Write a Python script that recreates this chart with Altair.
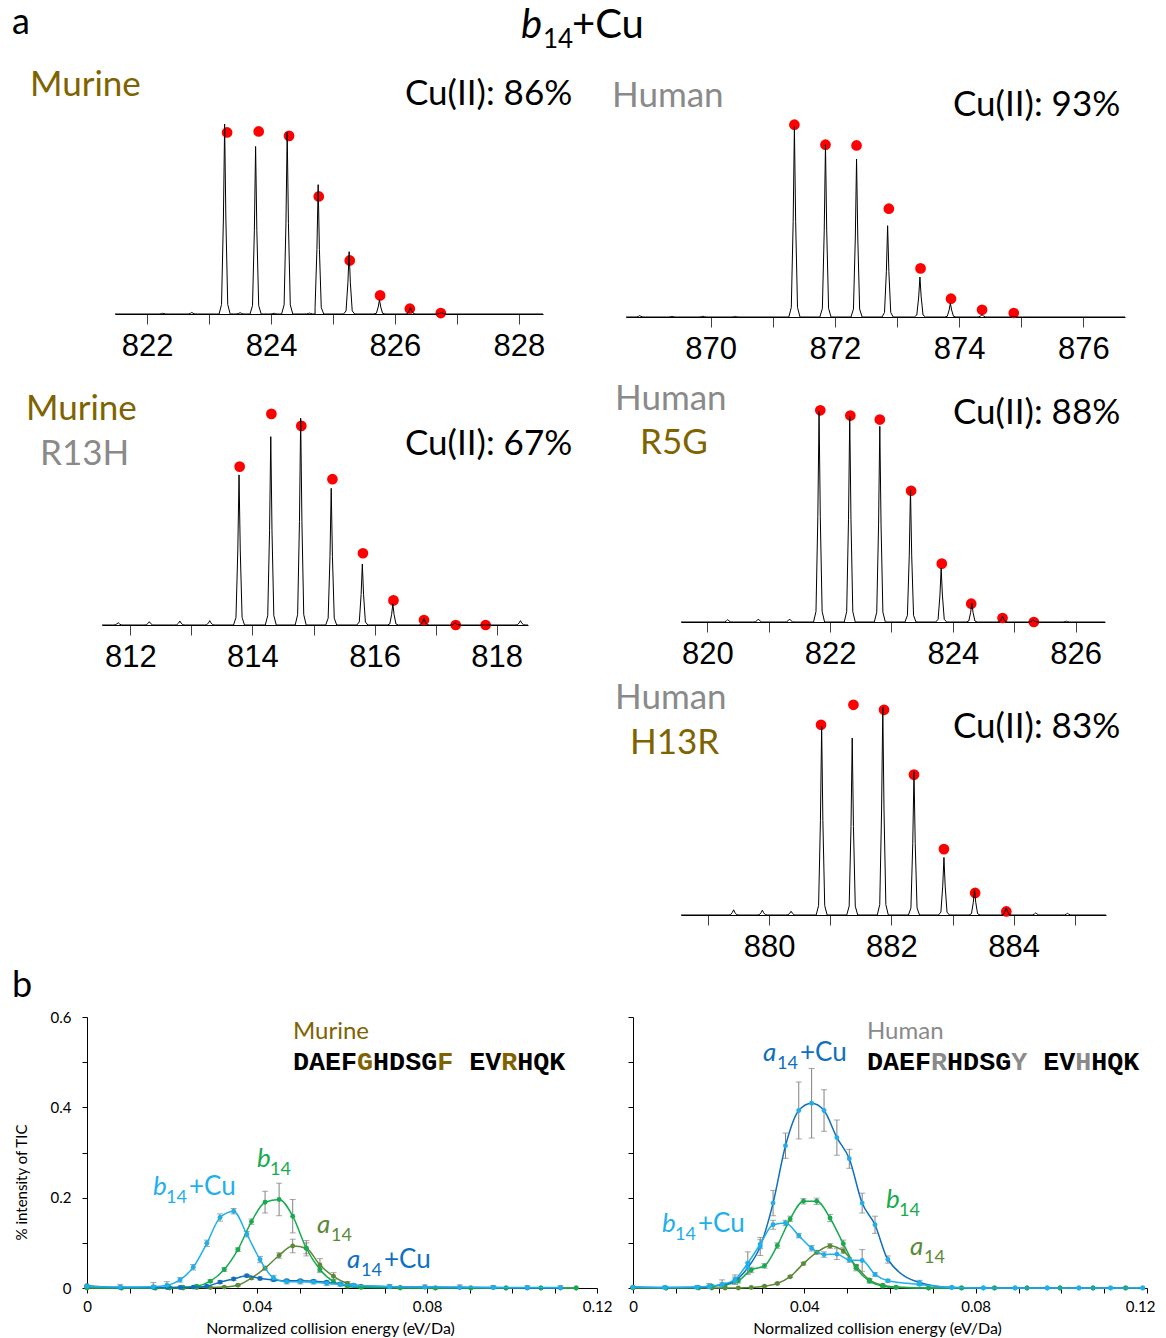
import altair as alt
import pandas as pd

# ---------------- colours ----------------
LIGHT_BLUE = "#1FAFEB"
DARK_BLUE = "#0E6FC1"
GREEN = "#16AC4E"
OLIVE_GREEN = "#5A8A38"
OLIVE_TXT = "#7F6300"
GRAY_TXT = "#8A8A8A"
ERR_GRAY = "#808080"

# ---------------- panel a : spectra (relative intensity, %) ----------------
S1_PEAK_MZ = [822.25, 822.72, 823.25, 823.50, 823.75, 824.05, 824.26, 824.62, 824.76, 825.26, 825.75, 826.25, 826.75]
S1_PEAK_I = [0.4, 0.8, 100, 0.7, 88.2, 0.4, 95.6, 0.5, 68.1, 32.8, 7.5, 3.5, 0.8]
S1_DOT_MZ = [823.29, 823.80, 824.29, 824.77, 825.27, 825.76, 826.24, 826.74]
S1_DOT_I = [95.6, 96.1, 93.8, 61.9, 28.2, 9.8, 2.8, 0.5]

S2_PEAK_MZ = [868.86, 869.38, 869.88, 870.40, 871.35, 871.85, 872.35, 872.85, 873.37, 873.86, 874.37, 874.88]
S2_PEAK_I = [0.7, 0.3, 0.4, 0.3, 100, 90.4, 82.9, 47.9, 21.0, 7.3, 1.2, 0.3]
S2_DOT_MZ = [871.35, 871.85, 872.35, 872.87, 873.38, 873.87, 874.37, 874.88]
S2_DOT_I = [100.9, 90.4, 90.0, 56.8, 25.5, 9.6, 3.8, 2.1]

S3_PEAK_MZ = [811.80, 812.31, 812.81, 813.30, 813.78, 814.30, 814.79, 815.29, 815.80, 816.30, 816.81, 817.32, 818.39]
S3_PEAK_I = [1.1, 1.6, 1.9, 2.1, 72.6, 91.1, 100, 66.1, 29.5, 10.2, 3.2, 1.1, 2.1]
S3_DOT_MZ = [813.79, 814.31, 814.80, 815.31, 815.81, 816.31, 816.81, 817.33, 817.82]
S3_DOT_I = [76.6, 102.1, 96.3, 70.5, 34.7, 11.9, 2.4, 0.0, 0.0]

S4_PEAK_MZ = [820.33, 820.83, 821.34, 821.82, 822.32, 822.81, 823.31, 823.81, 824.31, 824.81, 825.31, 825.85]
S4_PEAK_I = [1.1, 1.4, 1.4, 100, 97.6, 92.9, 62.8, 25.6, 9.0, 2.7, 1.1, 0.4]
S4_DOT_MZ = [821.84, 822.33, 822.81, 823.32, 823.82, 824.30, 824.81, 825.32]
S4_DOT_I = [100.5, 98.0, 96.1, 62.3, 27.7, 8.7, 1.9, 0.0]

S5_PEAK_MZ = [879.42, 879.89, 880.36, 880.86, 881.36, 881.86, 882.37, 882.86, 883.36, 883.88, 884.36, 884.88]
S5_PEAK_I = [2.5, 2.3, 1.8, 90.7, 85.1, 100, 69.0, 27.7, 12.2, 3.4, 1.0, 0.8]
S5_DOT_MZ = [880.85, 881.38, 881.88, 882.37, 882.86, 883.37, 883.88]
S5_DOT_I = [91.5, 101.1, 98.7, 67.5, 31.7, 10.6, 1.7]

# peak profile (style constants: offsets in m/z and relative height)
PEAK_DX = [-0.09, -0.05, -0.02, 0.0, 0.02, 0.05, 0.09]
PEAK_F = [0.0, 0.05, 0.5, 1.0, 0.5, 0.05, 0.0]

# ---------------- panel b : energy-resolved curves ----------------
E_MU_CU = [0, 0.0078, 0.0156, 0.0188, 0.0219, 0.025, 0.0282, 0.0313, 0.0345, 0.0376, 0.0407, 0.0439,
           0.047, 0.0502, 0.0533, 0.0564, 0.0596, 0.0627, 0.0712, 0.0795, 0.0877, 0.0956, 0.1036, 0.1114]
MU_B14CU = [0.004, 0.002, 0.003, 0.006, 0.018, 0.046, 0.099, 0.156, 0.170, 0.119, 0.063, 0.022,
            0.014, 0.014, 0.013, 0.010, 0.008, 0.006, 0.003, 0.002, 0.002, 0.001, 0.001, 0.001]
MU_B14CU_ERR = [0.002, 0.006, 0.009, 0.008, 0.005, 0.006, 0.007, 0.008, 0.006, 0.006, 0.007, 0.006,
                0.005, 0.005, 0.004, 0.004, 0.004, 0.003, 0.005, 0.005, 0.005, 0.004, 0.004, 0.004]
MU_A14CU = [0.005, 0.001, 0.001, 0.001, 0.001, 0.002, 0.004, 0.013, 0.020, 0.027, 0.021, 0.018,
            0.016, 0.016, 0.015, 0.013, 0.009, 0.006, 0.003, 0.002, 0.001, 0.001, 0.0, 0.0]
MU_A14CU_ERR = [0.001, 0.001, 0.001, 0.001, 0.001, 0.001, 0.002, 0.003, 0.003, 0.003, 0.003, 0.003,
                0.003, 0.003, 0.003, 0.003, 0.002, 0.002, 0.001, 0.001, 0.001, 0.001, 0.001, 0.001]
E_MU_B = [0, 0.0081, 0.0161, 0.0194, 0.0226, 0.0258, 0.029, 0.0323, 0.0355, 0.0387, 0.0419, 0.0452,
          0.0484, 0.0516, 0.0548, 0.058, 0.0613, 0.0645, 0.0737, 0.082, 0.0903, 0.0986, 0.1068, 0.1151]
MU_B14 = [0.001, 0.0, 0.0, 0.001, 0.002, 0.004, 0.015, 0.041, 0.085, 0.147, 0.190, 0.196,
          0.159, 0.088, 0.041, 0.014, 0.004, 0.001, 0.0, 0.0, 0.0, 0.0, 0.0, 0.0]
MU_B14_ERR = [0.001, 0.0, 0.0, 0.001, 0.001, 0.002, 0.003, 0.004, 0.004, 0.006, 0.024, 0.036,
              0.037, 0.017, 0.007, 0.005, 0.002, 0.001, 0.0, 0.0, 0.0, 0.0, 0.0, 0.0]
MU_A14 = [0.0, 0.0, 0.0, 0.0, 0.0, 0.001, 0.001, 0.002, 0.006, 0.022, 0.044, 0.072,
          0.093, 0.088, 0.051, 0.026, 0.010, 0.004, 0.001, 0.0, 0.0, 0.0, 0.0, 0.0]
MU_A14_ERR = [0.0, 0.0, 0.0, 0.0, 0.0, 0.0, 0.001, 0.001, 0.002, 0.003, 0.004, 0.006,
              0.015, 0.012, 0.014, 0.008, 0.004, 0.002, 0.001, 0.0, 0.0, 0.0, 0.0, 0.0]

E_HU_CU = [0, 0.0074, 0.0149, 0.0178, 0.0208, 0.0238, 0.0268, 0.0297, 0.0327, 0.0356, 0.0387, 0.0417, 0.0446,
           0.0476, 0.0505, 0.0535, 0.0565, 0.0595, 0.0669, 0.0744, 0.0818, 0.0892, 0.0967, 0.1041, 0.1115, 0.119]
HU_A14CU = [0.002, 0.001, 0.001, 0.003, 0.007, 0.016, 0.045, 0.092, 0.188, 0.315, 0.393, 0.409, 0.393,
            0.333, 0.286, 0.188, 0.140, 0.063, 0.012, 0.001, 0.0, 0.0, 0.0, 0.0, 0.0, 0.0]
HU_A14CU_ERR = [0.001, 0.001, 0.001, 0.002, 0.004, 0.008, 0.012, 0.020, 0.028, 0.028, 0.063, 0.077, 0.046,
                0.039, 0.021, 0.022, 0.019, 0.008, 0.005, 0.001, 0.0, 0.0, 0.0, 0.0, 0.0, 0.0]
HU_B14CU = [0.002, 0.001, 0.002, 0.004, 0.008, 0.019, 0.055, 0.097, 0.140, 0.144, 0.116, 0.088, 0.074,
            0.075, 0.062, 0.061, 0.030, 0.016, 0.008, 0.001, 0.0, 0.0, 0.0, 0.0, 0.0, 0.0]
HU_B14CU_ERR = [0.001, 0.001, 0.002, 0.006, 0.010, 0.010, 0.025, 0.010, 0.010, 0.006, 0.005, 0.006, 0.006,
                0.012, 0.005, 0.024, 0.004, 0.003, 0.002, 0.001, 0.0, 0.0, 0.0, 0.0, 0.0, 0.0]
E_HU_B = [0, 0.0077, 0.0153, 0.0184, 0.0215, 0.0246, 0.0276, 0.0307, 0.0337, 0.0367, 0.0398, 0.0429, 0.046,
          0.0491, 0.0521, 0.0552, 0.0583, 0.0614, 0.069, 0.0767, 0.0844, 0.092, 0.0997, 0.1074, 0.115]
HU_B14 = [0.001, 0.0, 0.001, 0.004, 0.007, 0.016, 0.040, 0.049, 0.094, 0.153, 0.192, 0.192, 0.155,
          0.098, 0.044, 0.015, 0.004, 0.001, 0.0, 0.0, 0.0, 0.0, 0.0, 0.0, 0.0]
HU_B14_ERR = [0.001, 0.0, 0.001, 0.002, 0.003, 0.005, 0.006, 0.005, 0.006, 0.006, 0.006, 0.007, 0.008,
              0.008, 0.006, 0.004, 0.002, 0.001, 0.0, 0.0, 0.0, 0.0, 0.0, 0.0, 0.0]
HU_A14 = [0.0, 0.0, 0.0, 0.0, 0.0, 0.0, 0.001, 0.004, 0.010, 0.025, 0.054, 0.079, 0.093,
          0.082, 0.048, 0.018, 0.006, 0.002, 0.0, 0.0, 0.0, 0.0, 0.0, 0.0, 0.0]
HU_A14_ERR = [0.0, 0.0, 0.0, 0.0, 0.0, 0.0, 0.0, 0.001, 0.002, 0.002, 0.003, 0.004, 0.005,
              0.005, 0.004, 0.003, 0.002, 0.001, 0.0, 0.0, 0.0, 0.0, 0.0, 0.0, 0.0]

X_TICKS = [0, 0.01, 0.02, 0.03, 0.04, 0.05, 0.06, 0.07, 0.08, 0.09, 0.10, 0.11, 0.12]
Y_TICKS = [0, 0.1, 0.2, 0.3, 0.4, 0.5, 0.6]

MU_SEQ = "DAEFGHDSGF EVRHQK"
HU_SEQ = "DAEFRHDSGY EVHHQK"
SEQ_HIGHLIGHT = [4, 9, 13]

# ---------------- layout (page pixels) ----------------
M = 8                      # page margin
W, H = 1150, 1330          # drawing area
LABEL_FONT = "Lato"
SEQ_SIZE = 26.7
SEQ_ADV = 0.6 * SEQ_SIZE   # monospace advance


def txt(t, x, y, size, color="black", font=LABEL_FONT, style="normal", weight="normal"):
    return alt.Chart(pd.DataFrame({"t": [t]})).mark_text(
        align="left", baseline="alphabetic", fontSize=size, color=color,
        font=font, fontStyle=style, fontWeight=weight
    ).encode(text="t:N", x=alt.value(x - M), y=alt.value(y - M))


def ion(letter, x, y, color, plus_cu, size=26, sub=18, dx1=13, dx2=36, dy=8):
    out = [txt(letter, x, y, size, color, style="italic"), txt("14", x + dx1, y + dy, sub, color)]
    if plus_cu:
        out.append(txt("+Cu", x + dx2, y, size, color))
    return out


def seq_text(seq, color, x, y):
    rows = []
    for i, c in enumerate(seq):
        if c == " ":
            continue
        rows.append({"ch": c, "px": x - M + i * SEQ_ADV,
                     "col": color if i in SEQ_HIGHLIGHT else "black"})
    return [alt.Chart(pd.DataFrame(rows)).mark_text(
        align="left", baseline="alphabetic", fontSize=SEQ_SIZE, font="Liberation Mono", fontWeight="bold"
    ).encode(text="ch:N", x=alt.X("px:Q", scale=None), y=alt.value(y - M),
             color=alt.Color("col:N", scale=None))]


def spectrum(peak_mz, peak_i, dot_mz, dot_i, domain, ticks, x0, x1, top, base, ymax):
    rows = [(domain[0], 0.0), (domain[1], 0.0)]
    for c, hh in zip(peak_mz, peak_i):
        for dx, f in zip(PEAK_DX, PEAK_F):
            rows.append((c + dx, hh * f))
    trace = pd.DataFrame(rows, columns=["mz", "i"]).sort_values("mz")
    dots = pd.DataFrame({"mz": dot_mz, "i": dot_i})
    xs = alt.Scale(domain=domain, range=[x0 - M, x1 - M], nice=False, zero=False)
    ys = alt.Scale(domain=[0, ymax], range=[base - M, top - M], nice=False, zero=False)
    xaxis = alt.Axis(values=ticks, labelExpr="datum.value % 2 == 0 ? format(datum.value, 'd') : ''",
                     orient="bottom", offset=(base - M) - H,
                     title=None, grid=False, tickSize=10, tickColor="#404040", domainColor="black",
                     labelFont="Liberation Sans", labelFontSize=31, labelColor="black",
                     labelPadding=7, labelFlush=False, labelOverlap=False)
    dot_layer = alt.Chart(dots).mark_circle(size=115, color="#FF0000", opacity=1).encode(
        x=alt.X("mz:Q", scale=xs, axis=None), y=alt.Y("i:Q", scale=ys, axis=None))
    line_layer = alt.Chart(trace).mark_line(color="black", strokeWidth=1).encode(
        x=alt.X("mz:Q", scale=xs, axis=xaxis), y=alt.Y("i:Q", scale=ys, axis=None))
    return [dot_layer, line_layer]


def kinetics(series, x0, x1, top, base, left, title_cx, last_label_shift):
    xs = alt.Scale(domain=[0, 0.12], range=[x0 - M, x1 - M], nice=False)
    ys = alt.Scale(domain=[0, 0.6], range=[base - M, top - M], nice=False)
    xaxis = alt.Axis(values=X_TICKS,
                     labelExpr="round(datum.value*100) % 4 == 0 ? format(datum.value, '~g') : ''",
                     labelOffset={"condition": {"test": "datum.value > 0.115", "value": last_label_shift},
                                  "value": 0},
                     orient="bottom", offset=(base - M) - H,
                     title="Normalized collision energy (eV/Da)", grid=False, tickSize=5,
                     tickColor="black", domainColor="black", labelFont=LABEL_FONT, labelFontSize=15,
                     labelColor="black", labelPadding=6, labelFlush=False, labelOverlap=False,
                     titleFont=LABEL_FONT, titleFontSize=16, titleFontWeight="normal",
                     titleColor="black", titleX=title_cx - M, titleY=45,
                     titleAlign="center", titleBaseline="alphabetic")
    if left:
        yaxis = alt.Axis(values=Y_TICKS, orient="left", offset=-(x0 - M),
                         labelExpr="round(datum.value*10) % 2 == 0 ? format(datum.value, '~g') : ''",
                         title="% intensity of TIC", grid=False, tickSize=5, tickColor="black",
                         domainColor="black", labelFont=LABEL_FONT, labelFontSize=15, labelColor="black",
                         labelPadding=11, labelFlush=False, labelOverlap=False,
                         titleFont=LABEL_FONT, titleFontSize=15, titleFontWeight="normal",
                         titleColor="black", titleAngle=270, titleX=21 - x0, titleY=1182 - M,
                         titleAlign="center", titleBaseline="middle")
    else:
        yaxis = alt.Axis(values=Y_TICKS, orient="left", offset=-(x0 - M), labels=False, title=None,
                         grid=False, tickSize=5, tickColor="black", domainColor="black")
    first = True
    err_layers, line_layers = [], []
    for E, I, ERR, lc, pc in series:
        df = pd.DataFrame({"e": E, "i": I, "err": ERR})
        df["lo"] = (df["i"] - df["err"]).clip(lower=0)
        df["hi"] = df["i"] + df["err"]
        eb = df[df["err"] > 0]
        X = alt.X("e:Q", scale=xs, axis=None)
        err_layers.append(alt.Chart(eb).mark_rule(color=ERR_GRAY, strokeWidth=1).encode(
            x=X, y=alt.Y("lo:Q", scale=ys, axis=None), y2="hi:Q"))
        for f in ["lo", "hi"]:
            err_layers.append(alt.Chart(eb).mark_tick(color=ERR_GRAY, orient="horizontal", size=6,
                                                      thickness=1).encode(
                x=X, y=alt.Y(f + ":Q", scale=ys, axis=None)))
        if first:
            Xa = alt.X("e:Q", scale=xs, axis=xaxis)
            Ya = alt.Y("i:Q", scale=ys, axis=yaxis)
            first = False
        else:
            Xa = X
            Ya = alt.Y("i:Q", scale=ys, axis=None)
        line_layers.append(alt.Chart(df).mark_line(color=lc, strokeWidth=1.5, interpolate="monotone").encode(x=Xa, y=Ya))
        line_layers.append(alt.Chart(df).mark_circle(color=pc, size=24, opacity=1).encode(
            x=X, y=alt.Y("i:Q", scale=ys, axis=None)))
    return err_layers + line_layers


layers = []
# ---- panel a ----
layers += spectrum(S1_PEAK_MZ, S1_PEAK_I, S1_DOT_MZ, S1_DOT_I, [821.48, 828.39], list(range(822, 829)),
                   115, 543, 114, 314, 105.3)
layers += spectrum(S2_PEAK_MZ, S2_PEAK_I, S2_DOT_MZ, S2_DOT_I, [868.64, 876.67], list(range(870, 877)),
                   626, 1125, 114, 317, 106.5)
layers += spectrum(S3_PEAK_MZ, S3_PEAK_I, S3_DOT_MZ, S3_DOT_I, [811.535, 818.514], list(range(812, 819)),
                   102, 528, 405, 625, 106.4)
layers += spectrum(S4_PEAK_MZ, S4_PEAK_I, S4_DOT_MZ, S4_DOT_I, [819.57, 826.48], list(range(820, 827)),
                   681, 1105, 405, 622, 103.0)
layers += spectrum(S5_PEAK_MZ, S5_PEAK_I, S5_DOT_MZ, S5_DOT_I, [878.56, 885.51], list(range(879, 886)),
                   681, 1106, 700, 915, 103.4)

# ---- panel b ----
mu_series = [
    (E_MU_B, MU_A14, MU_A14_ERR, OLIVE_GREEN, OLIVE_GREEN),
    (E_MU_B, MU_B14, MU_B14_ERR, GREEN, GREEN),
    (E_MU_CU, MU_A14CU, MU_A14CU_ERR, DARK_BLUE, DARK_BLUE),
    (E_MU_CU, MU_B14CU, MU_B14CU_ERR, LIGHT_BLUE, LIGHT_BLUE),
]
hu_series = [
    (E_HU_B, HU_A14, HU_A14_ERR, OLIVE_GREEN, OLIVE_GREEN),
    (E_HU_B, HU_B14, HU_B14_ERR, GREEN, GREEN),
    (E_HU_CU, HU_A14CU, HU_A14CU_ERR, DARK_BLUE, LIGHT_BLUE),
    (E_HU_CU, HU_B14CU, HU_B14CU_ERR, LIGHT_BLUE, LIGHT_BLUE),
]
layers += kinetics(mu_series, 87, 597, 1017, 1288, True, 330, 0)
layers += kinetics(hu_series, 633, 1147, 1017, 1288, False, 877, -7)

# ---- texts ----
layers += [
    txt("a", 12, 34, 36),
    txt("b", 521, 38, 40, style="italic"), txt("14", 543, 48, 26), txt("+Cu", 572, 38, 40),
    txt("Murine", 30, 96, 35, OLIVE_TXT), txt("Cu(II): 86%", 405, 105, 35),
    txt("Human", 612, 107, 35, GRAY_TXT), txt("Cu(II): 93%", 953, 116, 35),
    txt("Murine", 26, 420, 35, OLIVE_TXT), txt("R13H", 40, 465, 35, GRAY_TXT),
    txt("Cu(II): 67%", 405, 455, 35),
    txt("Human", 615, 410, 35, GRAY_TXT), txt("R5G", 640, 454, 35, OLIVE_TXT),
    txt("Cu(II): 88%", 953, 424, 35),
    txt("Human", 615, 709, 35, GRAY_TXT), txt("H13R", 630, 754, 35, OLIVE_TXT),
    txt("Cu(II): 83%", 953, 738, 35),
    txt("b", 12, 997, 36),
    txt("Murine", 293, 1039, 24, OLIVE_TXT),
    txt("Human", 867, 1039, 24, GRAY_TXT),
]
layers += seq_text(MU_SEQ, OLIVE_TXT, 293, 1070)
layers += seq_text(HU_SEQ, GRAY_TXT, 867, 1070)
layers += (ion("b", 153, 1195, LIGHT_BLUE, True)
           + ion("b", 257, 1167, GREEN, False)
           + ion("a", 317, 1233, OLIVE_GREEN, False, dx1=14)
           + ion("a", 347, 1268, DARK_BLUE, True, dx1=14, dx2=37)
           + ion("a", 763, 1061, DARK_BLUE, True, dx1=14, dx2=37)
           + ion("b", 662, 1232, LIGHT_BLUE, True)
           + ion("b", 886, 1208, GREEN, False)
           + ion("a", 910, 1255, OLIVE_GREEN, False, dx1=14))

chart = alt.layer(*layers).resolve_scale(
    x="independent", y="independent"
).properties(
    width=W, height=H,
    autosize=alt.AutoSizeParams(type="none"),
    padding={"left": 0, "top": 0, "right": 0, "bottom": 0}
).configure_view(stroke=None).configure_axis(grid=False)

chart.save("out.html", embed_options={"renderer": "svg", "actions": False})
